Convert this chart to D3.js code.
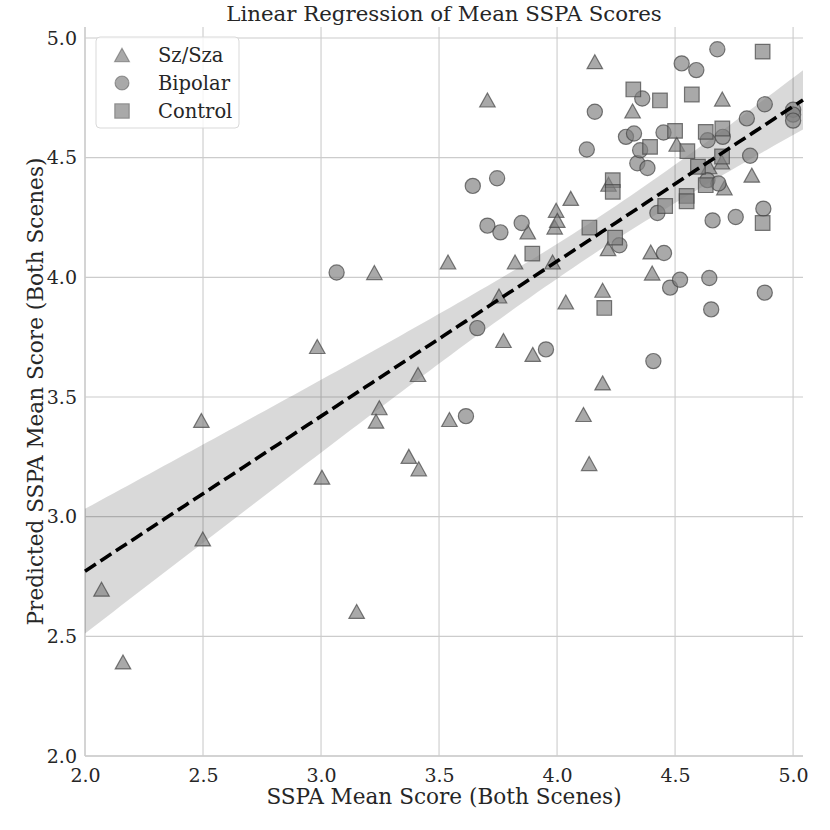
<!DOCTYPE html>
<html><head><meta charset="utf-8">
<script src="https://cdn.jsdelivr.net/npm/d3@7"></script>
<style>body{margin:0;background:#fff}</style>
</head><body>
<svg id="chart" width="830" height="830"></svg>
<script>
// ---- data ----
const szX = [2.07,2.161,2.493,2.499,2.984,3.004,3.151,3.226,3.247,3.233,3.372,3.414,3.411,3.544,3.538,3.705,3.754,3.773,3.822,3.876,3.897,3.981,3.99,3.996,4.001,4.037,4.058,4.112,4.136,4.16,4.193,4.193,4.216,4.218,4.32,4.397,4.403,4.507,4.644,4.698,4.7,4.709,4.825];
const szY = [2.697,2.393,3.402,2.907,3.711,3.165,2.604,4.02,3.455,3.399,3.252,3.2,3.594,3.406,4.064,4.741,3.922,3.736,4.064,4.19,3.678,4.064,4.21,4.28,4.238,3.897,4.33,3.427,3.222,4.901,3.946,3.559,4.12,4.389,4.695,4.106,4.018,4.556,4.462,4.482,4.745,4.374,4.427];
const bipolarX = [3.066,3.614,3.643,3.662,3.705,3.746,3.76,3.85,3.953,4.126,4.16,4.264,4.292,4.326,4.34,4.352,4.361,4.383,4.408,4.425,4.451,4.453,4.479,4.521,4.528,4.59,4.637,4.638,4.645,4.653,4.659,4.679,4.684,4.702,4.757,4.804,4.818,4.874,4.88,4.88,5.0,5.0,5.0];
const bipolarY = [4.02,3.42,4.382,3.788,4.216,4.414,4.188,4.227,3.699,4.534,4.692,4.134,4.587,4.601,4.477,4.531,4.747,4.457,3.65,4.269,4.605,4.102,3.957,3.99,4.894,4.866,4.406,4.573,3.997,3.866,4.238,4.953,4.392,4.587,4.252,4.664,4.508,4.287,4.723,3.936,4.70,4.68,4.655];
const controlX = [3.895,4.137,4.2,4.236,4.236,4.246,4.323,4.394,4.436,4.458,4.5,4.549,4.549,4.552,4.571,4.597,4.63,4.63,4.699,4.7,4.871,4.871];
const controlY = [4.099,4.208,3.872,4.406,4.357,4.166,4.785,4.545,4.739,4.298,4.612,4.34,4.318,4.527,4.764,4.462,4.608,4.385,4.505,4.622,4.943,4.227];
const groupNames = ["Sz/Sza","Bipolar","Control"];
const xTicks = [2.0,2.5,3.0,3.5,4.0,4.5,5.0];
const yTicks = [2.0,2.5,3.0,3.5,4.0,4.5,5.0];
const xDomain = [2.0, 5.042];
const yDomain = [2.0, 5.046];

// ---- layout ----
const W = 830, H = 830;
const m = {left: 85, right: 27, top: 27, bottom: 74};
const svg = d3.select("#chart");
const x = d3.scaleLinear().domain(xDomain).range([m.left, W - m.right]);
const y = d3.scaleLinear().domain(yDomain).range([H - m.bottom, m.top]);
const FONT = "DejaVu Serif";
const textCol = "#262626";
const gridCol = "#cccccc";

// grid
const g = svg.append("g");
g.selectAll(".gx").data(xTicks).join("line")
  .attr("x1", d => x(d)).attr("x2", d => x(d))
  .attr("y1", m.top).attr("y2", H - m.bottom)
  .attr("stroke", gridCol).attr("stroke-width", 1.1);
g.selectAll(".gy").data(yTicks).join("line")
  .attr("x1", m.left).attr("x2", W - m.right)
  .attr("y1", d => y(d)).attr("y2", d => y(d))
  .attr("stroke", gridCol).attr("stroke-width", 1.1);
// spines (left, bottom)
g.append("line").attr("x1", m.left).attr("x2", m.left).attr("y1", m.top).attr("y2", H - m.bottom)
  .attr("stroke", gridCol).attr("stroke-width", 1.3);
g.append("line").attr("x1", m.left).attr("x2", W - m.right).attr("y1", H - m.bottom).attr("y2", H - m.bottom)
  .attr("stroke", gridCol).attr("stroke-width", 1.3);

// tick labels via axes
const xAxis = svg.append("g").attr("transform", `translate(0,${H - m.bottom})`)
  .call(d3.axisBottom(x).tickValues(xTicks).tickFormat(d3.format(".1f")).tickSize(0).tickPadding(8));
const yAxis = svg.append("g").attr("transform", `translate(${m.left},0)`)
  .call(d3.axisLeft(y).tickValues(yTicks).tickFormat(d3.format(".1f")).tickSize(0).tickPadding(8));
[xAxis, yAxis].forEach(a => {
  a.select(".domain").remove();
  a.selectAll("text").attr("font-family", FONT).attr("font-size", 19).attr("fill", textCol);
});
xAxis.selectAll("text").attr("dy", "0.95em");

// regression (OLS on all points) with 95% CI
const allX = szX.concat(bipolarX, controlX);
const allY = szY.concat(bipolarY, controlY);
const n = allX.length;
const mx = d3.mean(allX), my = d3.mean(allY);
let sxx = 0, sxy = 0;
for (let i = 0; i < n; i++) { sxx += (allX[i]-mx)**2; sxy += (allX[i]-mx)*(allY[i]-my); }
const b1 = sxy / sxx, b0 = my - b1 * mx;
let sse = 0;
for (let i = 0; i < n; i++) sse += (allY[i] - (b0 + b1*allX[i]))**2;
const s = Math.sqrt(sse / (n - 2));
const tcrit = 2.1;
const grid = d3.range(0, 101).map(i => xDomain[0] + (xDomain[1]-xDomain[0]) * i / 100);
const band = grid.map(xv => {
  const yh = b0 + b1 * xv;
  const se = s * Math.sqrt(1/n + (xv-mx)**2 / sxx);
  return {x: xv, lo: yh - tcrit*se, hi: yh + tcrit*se, yh};
});
svg.append("path").datum(band)
  .attr("d", d3.area().x(d => x(d.x)).y0(d => y(d.lo)).y1(d => y(d.hi)))
  .attr("fill", "#000").attr("fill-opacity", 0.15);

// markers
const triPath = (w, h) => `M0,${-h/2}L${w/2},${h/2}L${-w/2},${h/2}Z`;
const sqPath = (a) => `M${-a/2},${-a/2}h${a}v${a}h${-a}Z`;
const mfill = "#808080", medge = "#404040", malpha = 0.68;
function drawGroup(xs, ys, shape) {
  const data = xs.map((v, i) => [v, ys[i]]);
  const sel = svg.append("g").selectAll("path").data(data).join("path")
    .attr("transform", d => `translate(${x(d[0])},${y(d[1])})`)
    .attr("fill", mfill).attr("fill-opacity", malpha)
    .attr("stroke", medge).attr("stroke-opacity", malpha).attr("stroke-width", 1.2);
  if (shape === "tri") sel.attr("d", triPath(15.5, 14));
  else if (shape === "circ") sel.attr("d", d3.symbol(d3.symbolCircle, Math.PI * 7.6 * 7.6)());
  else sel.attr("d", sqPath(14.6));
}
drawGroup(szX, szY, "tri");
drawGroup(bipolarX, bipolarY, "circ");
drawGroup(controlX, controlY, "sq");

// regression line
svg.append("path").datum(band)
  .attr("d", d3.line().x(d => x(d.x)).y(d => y(d.yh)))
  .attr("fill", "none").attr("stroke", "#000").attr("stroke-width", 3.6)
  .attr("stroke-dasharray", "13,5.5");

// legend
const lg = svg.append("g");
lg.append("rect").attr("x", 96).attr("y", 37).attr("width", 143).attr("height", 91)
  .attr("rx", 4).attr("fill", "#fff").attr("fill-opacity", 0.8)
  .attr("stroke", "#d9d9d9").attr("stroke-width", 1);
const legShapes = [triPath(15, 13.5), d3.symbol(d3.symbolCircle, Math.PI*7*7)(), sqPath(14.5)];
groupNames.forEach((nm, i) => {
  const cy = 55 + i * 28;
  lg.append("path").attr("d", legShapes[i]).attr("transform", `translate(122,${cy})`)
    .attr("fill", mfill).attr("fill-opacity", malpha)
    .attr("stroke", medge).attr("stroke-opacity", 0.45).attr("stroke-width", 1.1);
  lg.append("text").attr("x", 158).attr("y", cy + 7).text(nm)
    .attr("font-family", FONT).attr("font-size", 19.5).attr("fill", textCol);
});

// titles
svg.append("text").attr("x", (m.left + W - m.right)/2).attr("y", 21).attr("text-anchor", "middle")
  .attr("font-family", FONT).attr("font-size", 21.3).attr("fill", textCol)
  .text("Linear Regression of Mean SSPA Scores");
svg.append("text").attr("x", (m.left + W - m.right)/2).attr("y", 804).attr("text-anchor", "middle")
  .attr("font-family", FONT).attr("font-size", 21.6).attr("fill", textCol)
  .text("SSPA Mean Score (Both Scenes)");
svg.append("text").attr("transform", `translate(43,${(m.top + H - m.bottom)/2}) rotate(-90)`)
  .attr("text-anchor", "middle")
  .attr("font-family", FONT).attr("font-size", 21.6).attr("fill", textCol)
  .text("Predicted SSPA Mean Score (Both Scenes)");
</script>
</body></html>
